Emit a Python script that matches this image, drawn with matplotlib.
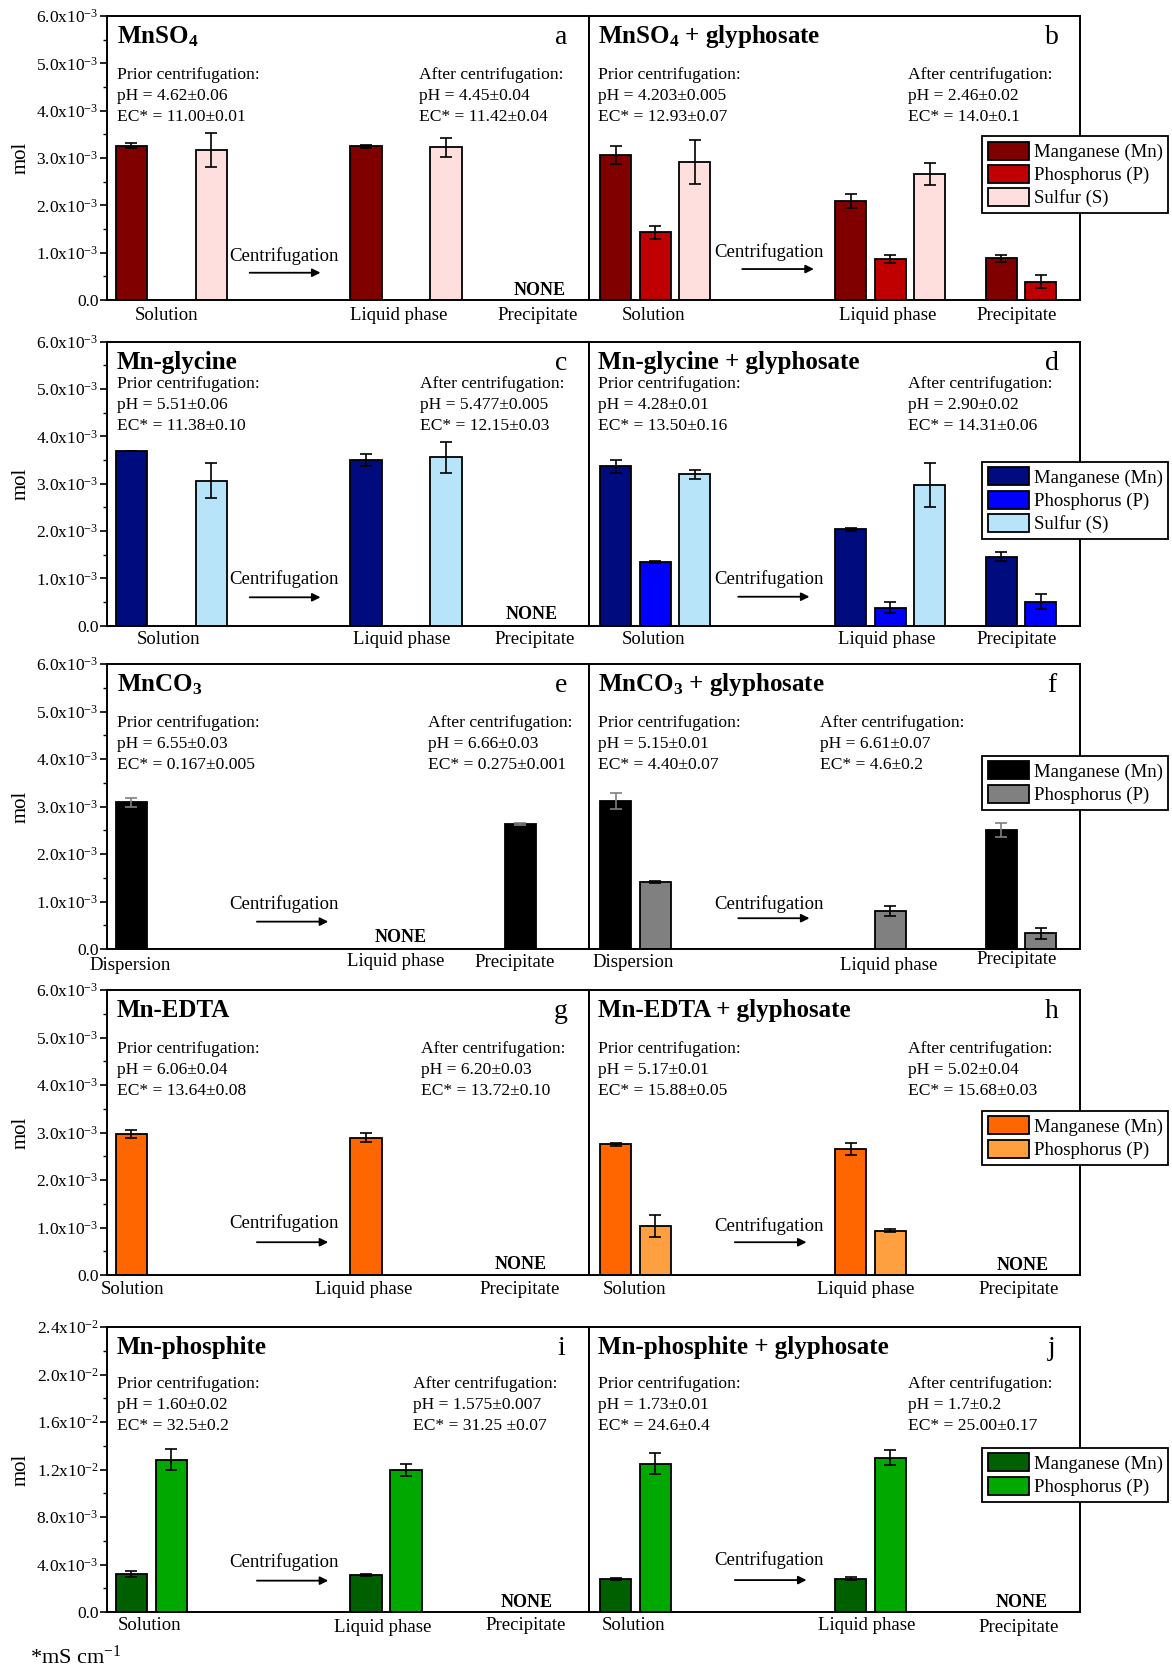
import numpy as np
import matplotlib
matplotlib.use("Agg")
import matplotlib.pyplot as plt
from matplotlib.ticker import MultipleLocator, FuncFormatter

plt.rcParams["font.family"] = "Liberation Serif"
plt.rcParams["mathtext.fontset"] = "custom"
plt.rcParams["mathtext.rm"] = "Liberation Serif"
plt.rcParams["mathtext.it"] = "Liberation Serif:italic"
plt.rcParams["mathtext.bf"] = "Liberation Serif:bold"

nan = np.nan

# ---- data (mol), order: first group, liquid phase, precipitate ----
a_mn = [3.26e-3, 3.25e-3, nan]
a_mn_err = [0.05e-3, 0.03e-3, nan]
a_s = [3.17e-3, 3.23e-3, nan]
a_s_err = [0.36e-3, 0.20e-3, nan]

b_mn = [3.06e-3, 2.09e-3, 0.88e-3]
b_mn_err = [0.19e-3, 0.14e-3, 0.07e-3]
b_p = [1.43e-3, 0.87e-3, 0.39e-3]
b_p_err = [0.14e-3, 0.09e-3, 0.13e-3]
b_s = [2.92e-3, 2.67e-3, nan]
b_s_err = [0.47e-3, 0.23e-3, nan]

c_mn = [3.70e-3, 3.50e-3, nan]
c_mn_err = [0.0, 0.12e-3, nan]
c_s = [3.06e-3, 3.56e-3, nan]
c_s_err = [0.37e-3, 0.33e-3, nan]

d_mn = [3.37e-3, 2.04e-3, 1.46e-3]
d_mn_err = [0.14e-3, 0.03e-3, 0.10e-3]
d_p = [1.34e-3, 0.38e-3, 0.51e-3]
d_p_err = [0.02e-3, 0.12e-3, 0.16e-3]
d_s = [3.20e-3, 2.97e-3, nan]
d_s_err = [0.10e-3, 0.46e-3, nan]

e_mn = [3.09e-3, nan, 2.63e-3]
e_mn_err = [0.095e-3, nan, 0.02e-3]

f_mn = [3.12e-3, nan, 2.50e-3]
f_mn_err = [0.17e-3, nan, 0.15e-3]
f_p = [1.42e-3, 0.80e-3, 0.33e-3]
f_p_err = [0.02e-3, 0.11e-3, 0.12e-3]

g_mn = [2.97e-3, 2.89e-3, nan]
g_mn_err = [0.08e-3, 0.09e-3, nan]

h_mn = [2.75e-3, 2.65e-3, nan]
h_mn_err = [0.03e-3, 0.13e-3, nan]
h_p = [1.04e-3, 0.93e-3, nan]
h_p_err = [0.23e-3, 0.03e-3, nan]

i_mn = [3.20e-3, 3.12e-3, nan]
i_mn_err = [0.25e-3, 0.10e-3, nan]
i_p = [12.84e-3, 11.97e-3, nan]
i_p_err = [0.87e-3, 0.53e-3, nan]

j_mn = [2.78e-3, 2.81e-3, nan]
j_mn_err = [0.05e-3, 0.10e-3, nan]
j_p = [12.50e-3, 13.01e-3, nan]
j_p_err = [0.88e-3, 0.60e-3, nan]

sol_labels = ["Solution", "Liquid phase", "Precipitate"]
disp_labels = ["Dispersion", "Liquid phase", "Precipitate"]
names = {"Mn": "Manganese (Mn)", "P": "Phosphorus (P)", "S": "Sulfur (S)"}

titles = ["MnSO$_\\mathbf{4}$", "MnSO$_\\mathbf{4}$ + glyphosate",
          "Mn-glycine", "Mn-glycine + glyphosate",
          "MnCO$_\\mathbf{3}$", "MnCO$_\\mathbf{3}$ + glyphosate",
          "Mn-EDTA", "Mn-EDTA + glyphosate",
          "Mn-phosphite", "Mn-phosphite + glyphosate"]
letters = list("abcdefghij")
prior_txt = [("4.62±0.06", "11.00±0.01"), ("4.203±0.005", "12.93±0.07"),
             ("5.51±0.06", "11.38±0.10"), ("4.28±0.01", "13.50±0.16"),
             ("6.55±0.03", "0.167±0.005"), ("5.15±0.01", "4.40±0.07"),
             ("6.06±0.04", "13.64±0.08"), ("5.17±0.01", "15.88±0.05"),
             ("1.60±0.02", "32.5±0.2"), ("1.73±0.01", "24.6±0.4")]
after_txt = [("4.45±0.04", "11.42±0.04"), ("2.46±0.02", "14.0±0.1"),
             ("5.477±0.005", "12.15±0.03"), ("2.90±0.02", "14.31±0.06"),
             ("6.66±0.03", "0.275±0.001"), ("6.61±0.07", "4.6±0.2"),
             ("6.20±0.03", "13.72±0.10"), ("5.02±0.04", "15.68±0.03"),
             ("1.575±0.007", "31.25 ±0.07"), ("1.7±0.2", "25.00±0.17")]

series = [
    [("Mn", a_mn, a_mn_err), ("S", a_s, a_s_err)],
    [("Mn", b_mn, b_mn_err), ("P", b_p, b_p_err), ("S", b_s, b_s_err)],
    [("Mn", c_mn, c_mn_err), ("S", c_s, c_s_err)],
    [("Mn", d_mn, d_mn_err), ("P", d_p, d_p_err), ("S", d_s, d_s_err)],
    [("Mn", e_mn, e_mn_err)],
    [("Mn", f_mn, f_mn_err), ("P", f_p, f_p_err)],
    [("Mn", g_mn, g_mn_err)],
    [("Mn", h_mn, h_mn_err), ("P", h_p, h_p_err)],
    [("Mn", i_mn, i_mn_err), ("P", i_p, i_p_err)],
    [("Mn", j_mn, j_mn_err), ("P", j_p, j_p_err)],
]

row_colors = [
    {"Mn": "#800000", "P": "#C00000", "S": "#FFDEDE"},
    {"Mn": "#000C7E", "P": "#0000FF", "S": "#B8E4F9"},
    {"Mn": "#000000", "P": "#808080"},
    {"Mn": "#FF6600", "P": "#FFA040"},
    {"Mn": "#006000", "P": "#00A800"},
]
row_ecolors = [{}, {}, {"Mn": "#808080"}, {}, {}]

# ---- layout (pixels of the 1172x1671 figure) ----
W, H = 1172, 1671
rows = [(16, 300), (341.7, 625.7), (664, 949), (990, 1275), (1327, 1612)]
cols = [(107, 589), (589, 1080)]
centers = [[1.61, 7.475, 11.33], [1.68, 7.63, 11.44]]
xlims = [(0, 12.05), (0, 12.43)]
offsets = {"Mn": -1, "P": 0, "S": 1}
ann_top = [0.792, 0.85, 0.794, 0.793, 0.80]
after_x = [0.647, 0.65, 0.649, 0.65, 0.667, 0.471, 0.651, 0.65, 0.635, 0.649]
label_x = [[0.124, 0.606, 0.894], [0.132, 0.608, 0.870],
           [0.128, 0.612, 0.888], [0.132, 0.606, 0.871],
           [0.048, 0.599, 0.846], [0.089, 0.610, 0.871],
           [0.053, 0.533, 0.856], [0.093, 0.564, 0.876],
           [0.088, 0.572, 0.868], [0.090, 0.565, 0.876]]
label_dy = [[15, 15, 15], [15, 15, 15], [14, 14, 14], [14, 14, 14],
            [16, 12, 13], [13, 16, 10], [15, 15, 15], [15, 15, 15],
            [13, 15, 14], [14, 14, 15]]
none_pos = [(0.898, 0.032), None, (0.882, 0.038), None, (0.61, 0.04), None,
            (0.858, 0.037), (0.883, 0.035), (0.87, 0.034), (0.881, 0.034)]
centri = [(0.253, 0.155, 0.296, 0.443, 0.096), (0.256, 0.169, 0.312, 0.458, 0.109),
          (0.253, 0.164, 0.296, 0.443, 0.100), (0.256, 0.163, 0.304, 0.449, 0.102),
          (0.253, 0.157, 0.311, 0.459, 0.096), (0.256, 0.157, 0.304, 0.449, 0.108),
          (0.253, 0.181, 0.311, 0.459, 0.115), (0.256, 0.173, 0.297, 0.443, 0.115),
          (0.253, 0.176, 0.311, 0.459, 0.110), (0.256, 0.182, 0.297, 0.443, 0.112)]
legend_top = [136, 461.7, 755.7, 1110.7, 1447.7]


def sci_fmt(v, pos):
    if abs(v) < 1e-12:
        return "0.0"
    e = int(np.floor(np.log10(abs(v)) + 1e-9))
    return f"{v / 10**e:.1f}x10$^{{{e}}}$"


fig = plt.figure(figsize=(W / 100, H / 100), dpi=100)

for k in range(10):
    r, c = divmod(k, 2)
    y0, y1 = rows[r]
    x0, x1 = cols[c]
    ax = fig.add_axes([x0 / W, 1 - y1 / H, (x1 - x0) / W, (y1 - y0) / H])
    ax_h = y1 - y0

    for key, vals, errs in series[k]:
        x = np.array(centers[c]) + offsets[key]
        ax.bar(x, vals, width=0.78, color=row_colors[r][key], edgecolor="black",
               linewidth=1.3, zorder=2, label=names[key])
        ax.errorbar(x, vals, yerr=errs, fmt="none",
                    ecolor=row_ecolors[r].get(key, "black"),
                    elinewidth=1.2, capsize=4, capthick=1.2, zorder=3)

    ax.set_xlim(*xlims[c])
    if r < 4:
        ax.set_ylim(0, 6e-3)
        ax.yaxis.set_major_locator(MultipleLocator(1e-3))
        ax.yaxis.set_minor_locator(MultipleLocator(0.5e-3))
    else:
        ax.set_ylim(0, 2.4e-2)
        ax.yaxis.set_major_locator(MultipleLocator(4e-3))
        ax.yaxis.set_minor_locator(MultipleLocator(2e-3))
    ax.yaxis.set_major_formatter(FuncFormatter(sci_fmt))
    ax.set_xticks([])
    for sp in ax.spines.values():
        sp.set_linewidth(1.4)
    if c == 0:
        ax.tick_params(axis="y", which="major", direction="out", length=5,
                       width=1.2, labelsize=12.5, pad=1)
        ax.tick_params(axis="y", which="minor", direction="out", length=3, width=1.0)
        ax.set_ylabel("mol", fontsize=15)
        ax.yaxis.set_label_coords(-0.158, 0.5)
    else:
        ax.tick_params(axis="y", which="both", left=False, labelleft=False)

    tx = 0.02 if c == 0 else 0.018
    ax.text(tx, 0.927, titles[k], transform=ax.transAxes, fontsize=18,
            fontweight="bold", va="center", ha="left")
    ax.text(0.942, 0.925, letters[k], transform=ax.transAxes, fontsize=20,
            va="center", ha="center")

    top = ann_top[r]
    for (xx, block) in [(tx, ("Prior", prior_txt[k])), (after_x[k], ("After", after_txt[k]))]:
        word, (ph, ec) = block
        lines = [f"{word} centrifugation:", f"pH = {ph}", f"EC* = {ec}"]
        for n, line in enumerate(lines):
            ax.text(xx, top - 0.074 * n, line, transform=ax.transAxes,
                    fontsize=12.6, va="center", ha="left")

    cx, cy, ax0, ax1, ay = centri[k]
    ax.text(cx, cy, "Centrifugation", transform=ax.transAxes, fontsize=13.5,
            va="center", ha="left")
    ax.annotate("", xy=(ax1, ay), xytext=(ax0, ay), xycoords="axes fraction",
                arrowprops=dict(arrowstyle="-|>", color="black", lw=1.3,
                                mutation_scale=12, shrinkA=0, shrinkB=0))

    labels = disp_labels if r == 2 else sol_labels
    for n, lab in enumerate(labels):
        ax.text(label_x[k][n], -label_dy[k][n] / ax_h, lab, transform=ax.transAxes,
                fontsize=13.5, va="center", ha="center")

    if none_pos[k] is not None:
        nx, ny = none_pos[k]
        ax.text(nx, ny, "NONE", transform=ax.transAxes, fontsize=13,
                fontweight="bold", va="center", ha="center")

    if c == 1:
        leg = ax.legend(loc="upper left", bbox_to_anchor=(982 / W, 1 - legend_top[r] / H),
                        bbox_transform=fig.transFigure, borderaxespad=0,
                        fontsize=13.5, handlelength=2.2, handleheight=1.1,
                        handletextpad=0.25, labelspacing=0.2, borderpad=0.3,
                        fancybox=False, framealpha=1, edgecolor="black")
        leg.get_frame().set_linewidth(1.3)

fig.text(30 / W, 1 - 1657 / H, "*mS cm$^{-1}$", fontsize=16, va="center", ha="left")

fig.savefig("out.png", dpi=100)
